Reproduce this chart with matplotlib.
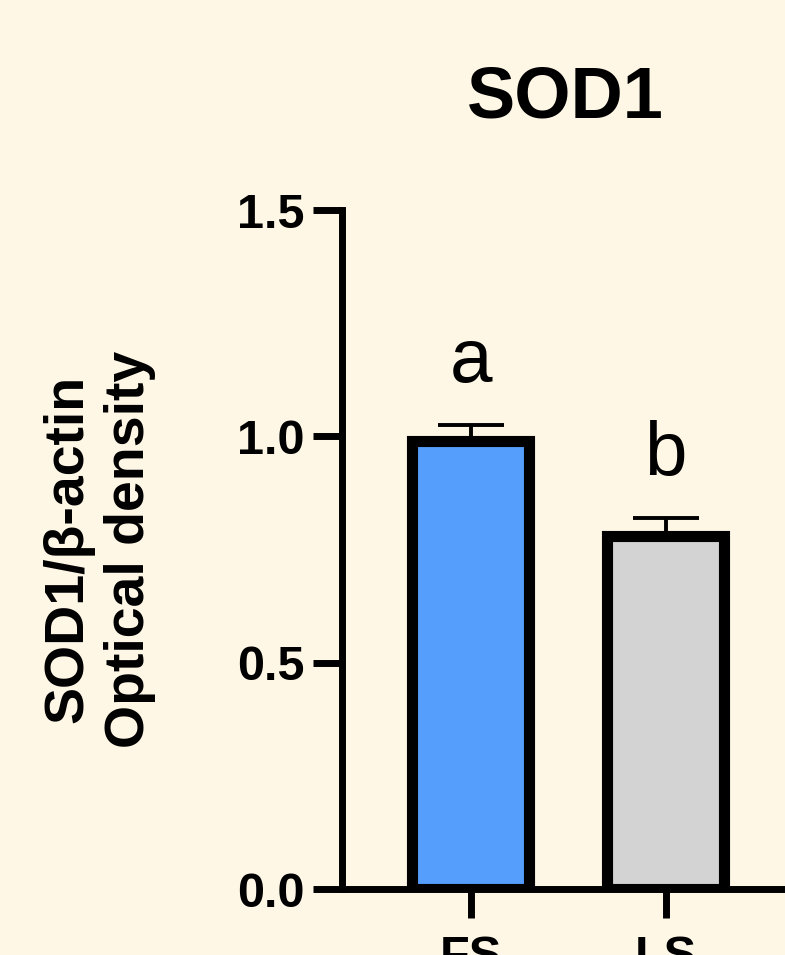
import numpy as np
import matplotlib.pyplot as plt

# Datos de densidad óptica (media y error estándar)
grupos = ['FS', 'LS']
medias = [0.99, 0.78]
errores = [0.035, 0.04]
letras = ['a', 'b']
colores = ['#559EFC', '#D3D3D3']

fondo = '#FEF7E6'
plt.rcParams['font.family'] = ['Liberation Sans', 'DejaVu Sans']

fig = plt.figure(figsize=(7.85, 9.55), dpi=100, facecolor=fondo)
ax = fig.add_axes([0.4357, 0.0691, 0.611, 0.711])
ax.set_facecolor(fondo)

x = np.arange(len(grupos))
ax.errorbar(x, medias, yerr=[np.zeros(len(errores)), errores], fmt='none',
            ecolor='black', elinewidth=2.8, capsize=24, capthick=2.8, zorder=1)
ax.bar(x, medias, width=0.6, color=colores, edgecolor='black', linewidth=8, zorder=2)

for xi, m, e, letra in zip(x, medias, errores, letras):
    ax.text(xi, m + e + 0.095, letra, ha='center', va='baseline', fontsize=55)

ax.set_xlim(-0.66, 1.8)
ax.set_ylim(0, 1.5)
ax.set_yticks([0, 0.5, 1.0, 1.5])
ax.set_yticklabels(['0.0', '0.5', '1.0', '1.5'])
ax.set_xticks(x)
ax.set_xticklabels(grupos)

for lado in ['top', 'right']:
    ax.spines[lado].set_visible(False)
for lado in ['left', 'bottom']:
    ax.spines[lado].set_linewidth(5)

ax.tick_params(axis='both', width=5, length=21, labelsize=35)
ax.tick_params(axis='y', pad=6)
ax.tick_params(axis='x', pad=12)
for lbl in ax.get_xticklabels() + ax.get_yticklabels():
    lbl.set_fontweight('bold')

# Etiqueta del eje Y en dos líneas
fig.text(99 / 785, 1 - 549 / 955, 'SOD1/β-actin\nOptical density', rotation=90,
         ha='center', va='center', fontsize=40, fontweight='bold',
         linespacing=1.25, multialignment='center')

fig.text(565 / 785, 1 - 118 / 955, 'SOD1', ha='center', va='baseline',
         fontsize=52, fontweight='bold')

plt.savefig('out.png', dpi=100, facecolor=fondo)
